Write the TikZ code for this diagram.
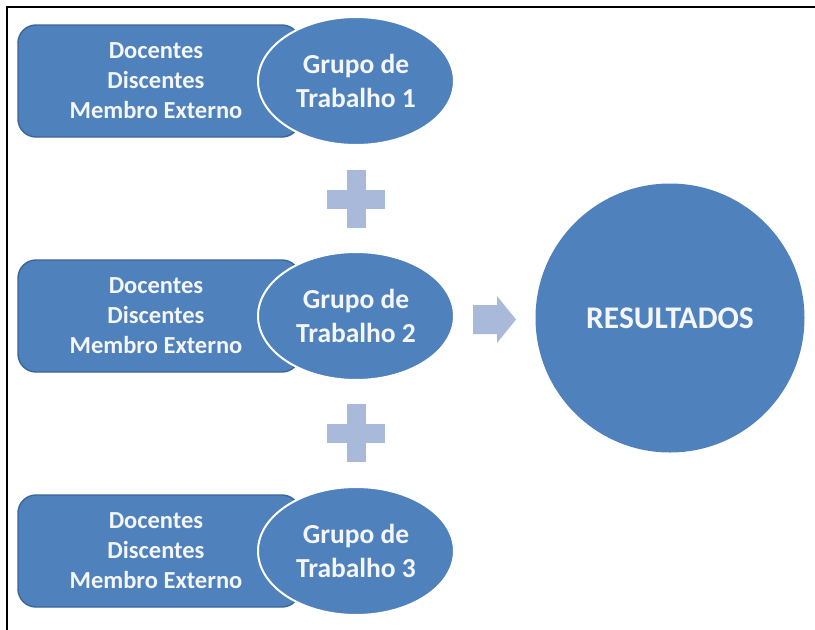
\documentclass[tikz,border=0pt]{standalone}
\usepackage{fontspec}
\setmainfont{Carlito}
\usetikzlibrary{shapes.geometric}
\definecolor{blu}{HTML}{4F81BD}
\definecolor{bluedge}{HTML}{3B6696}
\definecolor{light}{HTML}{A8B9D9}
\definecolor{txt}{HTML}{F4F6FA}
\begin{document}
\begin{tikzpicture}[x=1pt,y=-1pt,
  membox/.style={draw=bluedge,fill=blu,line width=1.4pt,rounded corners=18pt},
  memtext/.style={text=txt,font=\fontsize{24.5}{30}\selectfont\bfseries,align=center},
  grp/.style={ellipse,draw=white,fill=blu,line width=2pt,minimum width=196pt,minimum height=128pt,inner sep=0pt,
    text=txt,font=\fontsize{27.5}{34}\selectfont\bfseries,align=center},
  res/.style={circle,fill=blu,minimum size=269pt,inner sep=0pt,text=txt,font=\fontsize{31.5}{36}\selectfont\bfseries},
  sym/.style={fill=light,draw=none}]
\useasboundingbox (0,0) rectangle (815,630);
\fill[white] (0,0) rectangle (815,630);
% frame
\draw[line width=2pt] (7,630) -- (7,7) -- (815,7);
% rows
\foreach \i/\c in {1/81,2/316,3/551}{
  \draw[membox] (18,\c-56) rectangle (300,\c+56);
  \node[memtext] (m\i) at (156,\c) {Docentes\\Discentes\\Membro Externo};
  \node[grp] (g\i) at (356,\c) {Grupo de\\Trabalho \i};
}
% plus signs
\foreach \i/\c in {1/199,2/433}{
  \fill[sym] (356-29,\c-9.5) rectangle (356+29,\c+9.5);
  \fill[sym] (356-9.5,\c-29) rectangle (356+9.5,\c+29);
}
% arrow
\fill[sym] (473,305) -- (497,305) -- (497,296) -- (516,319.5) -- (497,343) -- (497,334) -- (473,334) -- cycle;
% result
\node[res] (r) at (670,318) {RESULTADOS};
\end{tikzpicture}
\end{document}
